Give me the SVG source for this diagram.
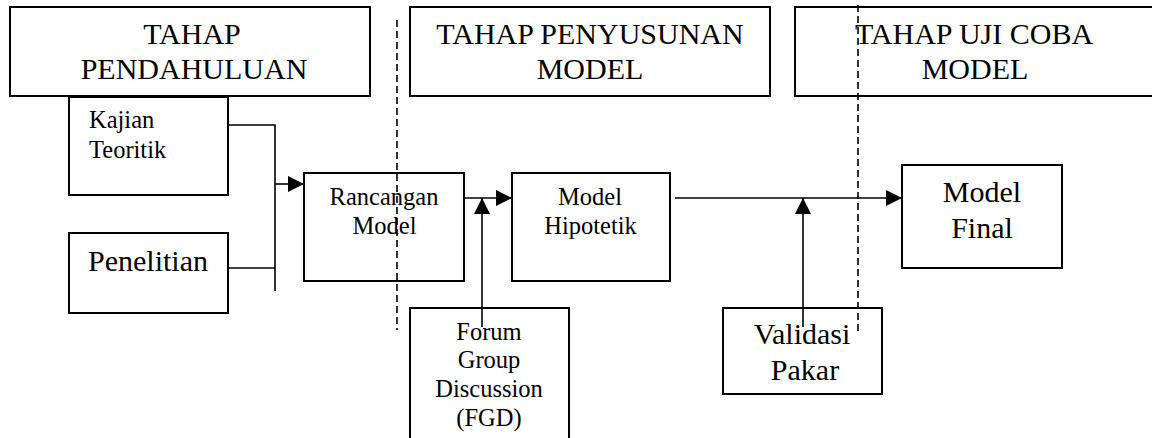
<svg xmlns="http://www.w3.org/2000/svg" width="1152" height="438" viewBox="0 0 1152 438">
<style>
.box{fill:#fff;stroke:#000;stroke-width:2}
text{font-family:'Liberation Serif','Times New Roman',serif;fill:#000;text-anchor:middle}
.big{font-size:30px}
.sm{font-size:24.5px}
.ln{fill:none;stroke:#000;stroke-width:1.6}
.dash{fill:none;stroke:#000;stroke-width:1.6;stroke-dasharray:7 4}
</style>
<defs>
<marker id="ah" markerUnits="userSpaceOnUse" markerWidth="16" markerHeight="16" viewBox="0 0 14 14" refX="14" refY="7" orient="auto">
<path d="M0,0 L14,7 L0,14 Z" fill="#000"/>
</marker>
</defs>
<g id="hdr1"><rect class="box" x="10" y="7" width="360" height="89"/>
<text class="big" x="192" y="44">TAHAP</text><text class="big" x="194" y="79">PENDAHULUAN</text></g>
<g id="hdr2"><rect class="box" x="410" y="7" width="360" height="89"/>
<text class="big" x="590" y="44">TAHAP PENYUSUNAN</text><text class="big" x="590" y="79">MODEL</text></g>
<g id="hdr3"><rect class="box" x="795" y="7" width="370" height="89"/>
<text class="big" x="974" y="44">TAHAP UJI COBA</text><text class="big" x="975" y="79">MODEL</text></g>
<g id="kajian"><rect class="box" x="69" y="97" width="159" height="98"/>
<text class="sm" x="89" y="128" style="text-anchor:start">Kajian</text><text class="sm" x="89" y="158" style="text-anchor:start">Teoritik</text></g>
<g id="penelitian"><rect class="box" x="69" y="233" width="159" height="80"/>
<text class="big" x="148" y="271">Penelitian</text></g>
<g id="rancangan"><rect class="box" x="304" y="173" width="160" height="108"/>
<text class="sm" x="384" y="205">Rancangan</text><text class="sm" x="384.5" y="234">Model</text></g>
<g id="hipotetik"><rect class="box" x="512" y="173" width="158" height="108"/>
<text class="sm" x="590" y="205">Model</text><text class="sm" x="590.5" y="234">Hipotetik</text></g>
<g id="final"><rect class="box" x="902" y="165" width="160" height="103"/>
<text class="big" x="982" y="202">Model</text><text class="big" x="982" y="238">Final</text></g>
<g id="fgd"><rect class="box" x="410" y="308" width="159" height="140"/>
<text class="sm" x="489" y="340">Forum</text><text class="sm" x="489" y="368">Group</text><text class="sm" x="489" y="397">Discussion</text><text class="sm" x="489" y="426">(FGD)</text></g>
<g id="validasi"><rect class="box" x="723" y="308" width="159" height="86"/>
<text class="big" x="802" y="344">Validasi</text><text class="big" x="805" y="380">Pakar</text></g>
<g id="connectors">
<path class="ln" d="M228,125 H275 V291"/>
<path class="ln" d="M228,268 H275"/>
<path class="ln" d="M275,184 H304" marker-end="url(#ah)"/>
<path class="ln" d="M464,198 H512" marker-end="url(#ah)"/>
<path class="ln" d="M482,327 V198" marker-end="url(#ah)"/>
<path class="ln" d="M675,198 H902" marker-end="url(#ah)"/>
<path class="ln" d="M803,327 V198" marker-end="url(#ah)"/>
</g>
<g id="dividers">
<path class="dash" d="M397,20 V330"/>
<path class="dash" d="M858,5 V335"/>
</g>
</svg>
